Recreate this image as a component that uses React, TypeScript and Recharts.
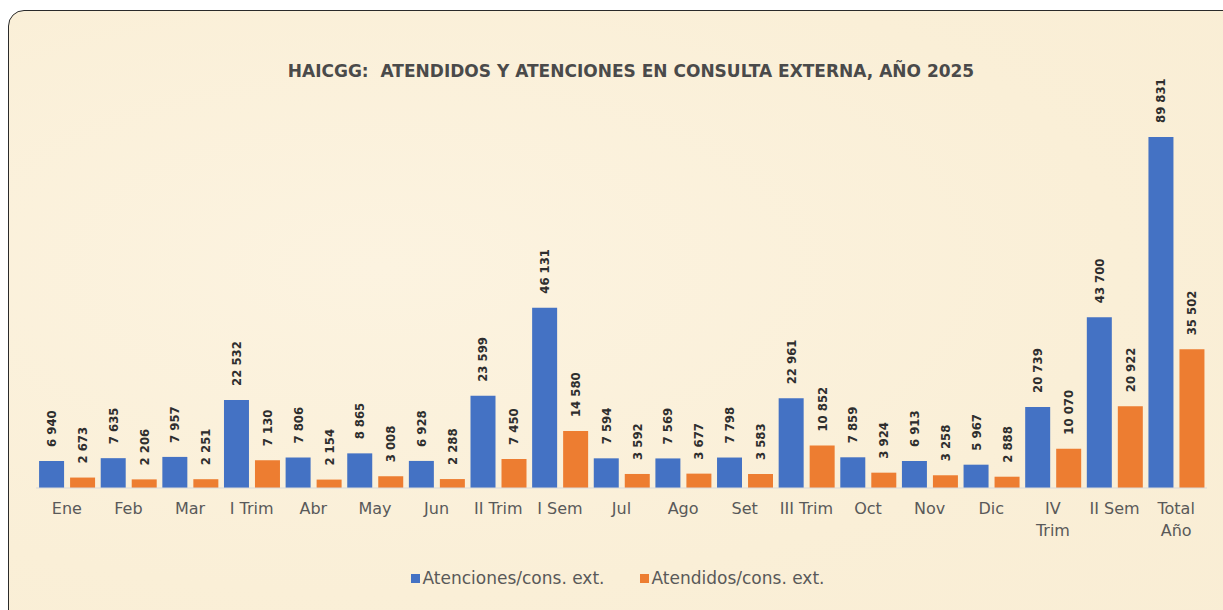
import { Bar, BarChart, LabelList, Legend, XAxis, YAxis } from "recharts";

const categories = [
  "Ene", "Feb", "Mar", "I Trim", "Abr", "May", "Jun", "II Trim", "I Sem",
  "Jul", "Ago", "Set", "III Trim", "Oct", "Nov", "Dic", "IV\nTrim", "II Sem", "Total\nAño",
];
const atenciones = [
  6940, 7635, 7957, 22532, 7806, 8865, 6928, 23599, 46131,
  7594, 7569, 7798, 22961, 7859, 6913, 5967, 20739, 43700, 89831,
];
const atendidos = [
  2673, 2206, 2251, 7130, 2154, 3008, 2288, 7450, 14580,
  3592, 3677, 3583, 10852, 3924, 3258, 2888, 10070, 20922, 35502,
];

const data = categories.map((name, i) => ({
  name,
  atenciones: atenciones[i],
  atendidos: atendidos[i],
}));

const BLUE = "#4472C4";
const ORANGE = "#ED7D31";
const FONT = "'DejaVu Sans', Verdana, sans-serif";
const fmt = (v: number) => String(v).replace(/\B(?=(\d{3})+(?!\d))/g, " ");

// rotated value label sitting above the bar
const VLabel = (props: any) => {
  const { x, y, width, value } = props;
  const cx = x + width / 2 + 4.5;
  const cy = y - 14;
  return (
    <text
      x={cx}
      y={cy}
      transform={`rotate(-90 ${cx} ${cy})`}
      textAnchor="start"
      fontFamily="'DejaVu Sans Condensed', 'DejaVu Sans'"
      fontWeight="bold"
      fontSize={13}
      fill="#2e2e2e"
    >
      {fmt(value)}
    </text>
  );
};

const Tick = ({ x, y, payload }: any) => {
  const lines = String(payload.value).split("\n");
  return (
    <text x={x} y={y} textAnchor="middle" fontFamily={FONT} fontSize={16} fill="#595959">
      {lines.map((l, i) => (
        <tspan key={i} x={x} dy={i === 0 ? 18 : 22}>
          {l}
        </tspan>
      ))}
    </text>
  );
};

const LegendBox = () => {
  const items = [
    { label: "Atenciones/cons. ext.", color: BLUE },
    { label: "Atendidos/cons. ext.", color: ORANGE },
  ];
  return (
    <div
      style={{
        height: 30,
        display: "flex",
        justifyContent: "center",
        alignItems: "center",
        gap: 35,
        fontFamily: FONT,
        fontSize: 17,
        color: "#595959",
      }}
    >
      {items.map((it) => (
        <div key={it.label} style={{ display: "flex", alignItems: "center", gap: 3 }}>
          <span style={{ width: 9, height: 9, background: it.color, display: "inline-block" }} />
          <span>{it.label}</span>
        </div>
      ))}
    </div>
  );
};

export default function App() {
  return (
    <div
      style={{
        position: "fixed",
        left: 0,
        top: 0,
        width: 1223,
        height: 610,
        overflow: "hidden",
        background: "#fff",
      }}
    >
      <div
        style={{
          position: "absolute",
          left: 8,
          top: 10,
          width: 1240,
          height: 640,
          border: "1.5px solid #2a2a2a",
          borderRadius: 16,
          background:
            "radial-gradient(ellipse at 30% 40%, #fcf3e0 0%, #faefd7 60%, #f9edd4 100%)",
        }}
      />
      <div
        style={{
          position: "absolute",
          left: 0,
          top: 61,
          width: 1262,
          textAlign: "center",
          fontFamily: FONT,
          fontWeight: 700,
          fontSize: 17,
          color: "#4a4a4a",
          whiteSpace: "pre",
        }}
      >
        {"HAICGG:  ATENDIDOS Y ATENCIONES EN CONSULTA EXTERNA, AÑO 2025"}
      </div>
      <div style={{ position: "absolute", left: 0, top: 0 }}>
        <BarChart
          width={1223}
          height={610}
          data={data}
          margin={{ top: 137, right: 16, left: 36, bottom: 0 }}
          barCategoryGap="5%"
          barGap={6}
        >
          <XAxis
            dataKey="name"
            interval={0}
            tickLine={false}
            axisLine={{ stroke: "#d9d9d9" }}
            height={92}
            tick={<Tick />}
          />
          <YAxis hide domain={[0, 89831]} />
          <Legend
            verticalAlign="bottom"
            content={<LegendBox />}
            wrapperStyle={{ bottom: 17, left: 6, width: 1223 }}
          />
          <Bar dataKey="atenciones" fill={BLUE} isAnimationActive={false}>
            <LabelList dataKey="atenciones" content={<VLabel />} />
          </Bar>
          <Bar dataKey="atendidos" fill={ORANGE} isAnimationActive={false}>
            <LabelList dataKey="atendidos" content={<VLabel />} />
          </Bar>
        </BarChart>
      </div>
    </div>
  );
}
